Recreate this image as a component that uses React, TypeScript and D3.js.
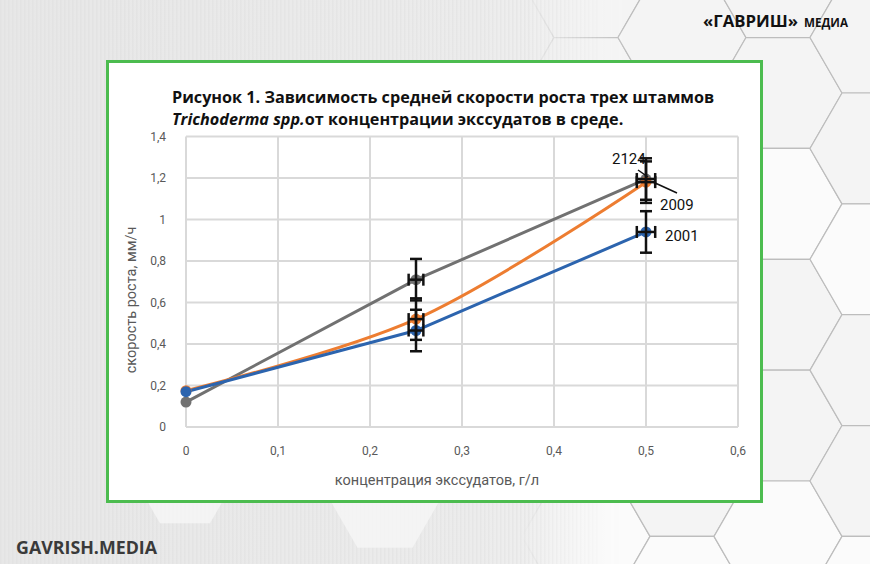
import React from "react";
import * as d3 from "d3";

const W = 870;
const H = 564;

const xTicks = [0, 0.1, 0.2, 0.3, 0.4, 0.5, 0.6];
const yTicks = [0, 0.2, 0.4, 0.6, 0.8, 1, 1.2, 1.4];
const concentrations = [0, 0.25, 0.5];

const strainNames = ["2124", "2009", "2001"];
const grayValues = [0.12, 0.71, 1.195];
const orangeValues = [0.175, 0.52, 1.18];
const blueValues = [0.17, 0.465, 0.94];
const grayErr = [0, 0.1, 0.1];
const orangeErr = [0, 0.1, 0.1];
const blueErr = [0, 0.1, 0.1];
const xErr = [0, 0.008, 0.01];

const title1 = "Рисунок 1. Зависимость средней скорости роста трех штаммов";
const title2a = "Trichoderma spp.";
const title2b = "от концентрации экссудатов в среде.";
const yTitle = "скорость роста, мм/ч";
const xTitle = "концентрация экссудатов, г/л";

const fmt = (v: number) => String(v).replace(".", ",");

type Series = {
  name: string;
  values: number[];
  err: number[];
  color: string;
  smooth: boolean;
};

const series: Series[] = [
  { name: strainNames[0], values: grayValues, err: grayErr, color: "#717171", smooth: false },
  { name: strainNames[1], values: orangeValues, err: orangeErr, color: "#ED7D31", smooth: true },
  { name: strainNames[2], values: blueValues, err: blueErr, color: "#2C64AE", smooth: false },
];

function hexPath(cx: number, cy: number, s: number) {
  const pts: string[] = [];
  for (let i = 0; i < 6; i++) {
    const a = (Math.PI / 3) * i;
    pts.push(`${cx + s * Math.cos(a)},${cy + s * Math.sin(a)}`);
  }
  return "M" + pts.join("L") + "Z";
}

export default function App() {
  const x = d3.scaleLinear().domain([0, 0.6]).range([186, 738]);
  const y = d3.scaleLinear().domain([0, 1.4]).range([427, 136.5]);

  const s = 64;
  const hexes: { cx: number; cy: number }[] = [];
  for (let c = -8; c <= 2; c++) {
    const cx = 778 + c * 1.5 * s;
    const off = Math.abs(c) % 2 === 1 ? (s * Math.sqrt(3)) / 2 : 0;
    for (let r = -2; r <= 6; r++) {
      const cy = 93 + off + r * s * Math.sqrt(3);
      hexes.push({ cx, cy });
    }
  }

  const stripes: number[] = d3.range(0, 600, 4);

  return (
    <svg
      width={W}
      height={H}
      style={{ position: "absolute", left: 0, top: 0 }}
      xmlns="http://www.w3.org/2000/svg"
    >
      <defs>
        <linearGradient id="bg" x1="0" x2="1" y1="0" y2="0">
          <stop offset="0" stopColor="#e7e7e7" />
          <stop offset="0.55" stopColor="#ececec" />
          <stop offset="0.75" stopColor="#f5f5f5" />
          <stop offset="1" stopColor="#f8f8f8" />
        </linearGradient>
        <linearGradient id="fade" x1="0" x2="1" y1="0" y2="0">
          <stop offset="0" stopColor="#fff" stopOpacity="0" />
          <stop offset="0.6" stopColor="#fff" stopOpacity="0" />
          <stop offset="0.72" stopColor="#fff" stopOpacity="1" />
          <stop offset="1" stopColor="#fff" stopOpacity="1" />
        </linearGradient>
        <mask id="hexMask">
          <rect x={0} y={0} width={W} height={H} fill="url(#fade)" />
        </mask>
      </defs>

      {/* background */}
      <rect x={0} y={0} width={W} height={H} fill="url(#bg)" />
      <g opacity={0.35}>
        {stripes.map((sx) => (
          <rect key={sx} x={sx} y={0} width={1.5} height={H} fill="#dcdcdc" />
        ))}
      </g>
      <g mask="url(#hexMask)">
        {hexes.map((h, i) => (
          <path
            key={i}
            d={hexPath(h.cx, h.cy, s)}
            fill={i % 3 === 0 ? "#fbfbfb" : "#f4f4f4"}
            stroke="#bdbdbd"
            strokeWidth={1.2}
          />
        ))}
      </g>
      {/* faint white hexes at bottom */}
      <path d={hexPath(185, 480, 50)} fill="#f6f6f6" opacity={0.8} />
      <path d={hexPath(385, 500, 55)} fill="#f6f6f6" opacity={0.8} />

      {/* watermark texts */}
      <text
        x={703}
        y={27}
        fontFamily="'Open Sans', 'DejaVu Sans', sans-serif"
        fontWeight={700}
        fontSize={16.5}
        fill="#111"
        textLength={145}
        lengthAdjust="spacingAndGlyphs"
      >
        «ГАВРИШ»
        <tspan fontSize={11.5} dx={6}>МЕДИА</tspan>
      </text>
      <text
        x={16}
        y={554}
        fontFamily="'Open Sans', 'DejaVu Sans', sans-serif"
        fontWeight={700}
        fontSize={17.5}
        fill="#3a3a3a"
        textLength={141}
        lengthAdjust="spacingAndGlyphs"
      >
        GAVRISH.MEDIA
      </text>

      {/* chart frame */}
      <rect x={107.5} y={61.5} width={654} height={440} fill="#ffffff" stroke="#4CBC4F" strokeWidth={3} />

      {/* title */}
      <text
        x={172}
        y={103}
        fontFamily="'Open Sans', sans-serif"
        fontWeight={700}
        fontSize={16.2}
        fill="#111"
      >
        {title1}
      </text>
      <text
        x={172}
        y={125}
        fontFamily="'Open Sans', sans-serif"
        fontWeight={700}
        fontSize={16.2}
        fill="#111"
      >
        <tspan fontStyle="italic">{title2a}</tspan>
        <tspan>{title2b}</tspan>
      </text>

      {/* grid */}
      <g stroke="#d9d9d9" strokeWidth={2}>
        {yTicks.map((t) => (
          <line key={"gy" + t} x1={x(0)} x2={x(0.6)} y1={y(t)} y2={y(t)} />
        ))}
        {xTicks.map((t) => (
          <line key={"gx" + t} x1={x(t)} x2={x(t)} y1={y(0)} y2={y(1.4)} />
        ))}
      </g>

      {/* tick labels */}
      <g fontFamily="'Roboto', sans-serif" fontSize={12} fill="#595959">
        {yTicks.map((t) => (
          <text key={"ty" + t} x={166} y={y(t) + 4} textAnchor="end">
            {fmt(t)}
          </text>
        ))}
        {xTicks.map((t) => (
          <text key={"tx" + t} x={x(t)} y={455} textAnchor="middle">
            {fmt(t)}
          </text>
        ))}
      </g>

      {/* axis titles */}
      <text
        transform={`translate(136, 300) rotate(-90)`}
        textAnchor="middle"
        fontFamily="'Roboto', sans-serif"
        fontSize={14.5}
        fill="#595959"
      >
        {yTitle}
      </text>
      <text
        x={437}
        y={485}
        textAnchor="middle"
        fontFamily="'Roboto', sans-serif"
        fontSize={14.5}
        fill="#595959"
      >
        {xTitle}
      </text>

      {/* series lines */}
      {series.map((sr) => {
        const gen = d3
          .line<number>()
          .x((_, i) => x(concentrations[i]))
          .y((v) => y(v))
          .curve(sr.smooth ? d3.curveCatmullRom.alpha(0.5) : d3.curveLinear);
        return (
          <path
            key={"l" + sr.name}
            d={gen(sr.values) || ""}
            fill="none"
            stroke={sr.color}
            strokeWidth={3}
            strokeLinejoin="round"
          />
        );
      })}
      {/* markers */}
      {series.map((sr) => (
        <g key={"m" + sr.name}>
          {sr.values.map((v, i) => (
            <circle key={i} cx={x(concentrations[i])} cy={y(v)} r={5.5} fill={sr.color} />
          ))}
        </g>
      ))}

      {/* error bars */}
      <g stroke="#111" strokeWidth={2.5}>
        {series.map((sr) =>
          sr.values.map((v, i) => {
            if (!sr.err[i]) return null;
            const cx = x(concentrations[i]);
            const y1 = y(v + sr.err[i]);
            const y2 = y(v - sr.err[i]);
            const xl = x(concentrations[i] - xErr[i]);
            const xr = x(concentrations[i] + xErr[i]);
            return (
              <g key={sr.name + "e" + i}>
                <line x1={cx} x2={cx} y1={y1} y2={y2} />
                <line x1={cx - 6} x2={cx + 6} y1={y1} y2={y1} />
                <line x1={cx - 6} x2={cx + 6} y1={y2} y2={y2} />
                <line x1={xl} x2={xr} y1={y(v)} y2={y(v)} />
                <line x1={xl} x2={xl} y1={y(v) - 6} y2={y(v) + 6} />
                <line x1={xr} x2={xr} y1={y(v) - 6} y2={y(v) + 6} />
              </g>
            );
          })
        )}
      </g>

      {/* data labels */}
      <g fontFamily="'Roboto', sans-serif" fontSize={15} fill="#111">
        <text x={612} y={164}>{strainNames[0]}</text>
        <text x={660} y={210}>{strainNames[1]}</text>
        <text x={665} y={241}>{strainNames[2]}</text>
      </g>
      <g stroke="#111" strokeWidth={1.5}>
        <line x1={638} y1={170} x2={648} y2={177} />
        <line x1={653} y1={182} x2={677} y2={193} />
      </g>
    </svg>
  );
}
